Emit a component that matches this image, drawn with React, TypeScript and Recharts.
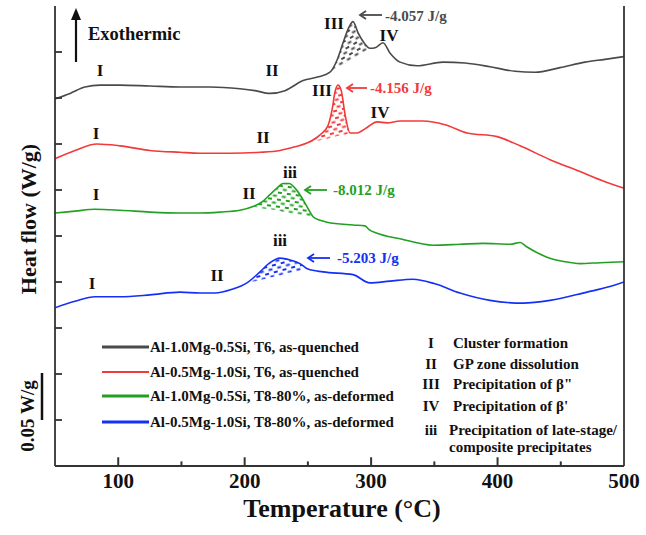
import React from 'react';
import { ComposedChart, Line, Area, XAxis, YAxis, ReferenceLine } from 'recharts';

// Temperature (°C) and heat-flow (W/g, offset)
const blackT = [50, 61.9, 73.7, 85.6, 101.4, 125.1, 148.9, 172.6, 196.3, 208.2, 220.0, 231.9, 246.2, 258.5, 267.5, 273.0, 277.8, 282.5, 285.7, 289.6, 294.4, 299.1, 303.8, 309.4, 314.9, 322.9, 336.3, 356.9, 374.3, 394.0, 413.8, 429.6, 449.4, 469.2, 485.0, 500];
const blackV = [0.399, 0.405, 0.412, 0.414, 0.414, 0.413, 0.412, 0.412, 0.410, 0.408, 0.405, 0.408, 0.419, 0.423, 0.428, 0.441, 0.460, 0.477, 0.483, 0.471, 0.460, 0.454, 0.455, 0.460, 0.449, 0.439, 0.435, 0.439, 0.438, 0.434, 0.429, 0.428, 0.433, 0.439, 0.442, 0.445];

const redT = [50, 65.8, 83.2, 101.4, 125.1, 148.9, 164.7, 188.4, 212.1, 228.0, 239.8, 249.3, 259.6, 265.9, 269.1, 271.5, 273.8, 276.2, 279.4, 283.3, 288.9, 296.8, 304.7, 312.6, 322.9, 341.1, 358.4, 375.9, 399.6, 417.8, 441.5, 465.2, 485.0, 500];
const redV = [0.334, 0.343, 0.350, 0.348, 0.343, 0.341, 0.340, 0.340, 0.341, 0.343, 0.347, 0.351, 0.360, 0.370, 0.387, 0.407, 0.414, 0.409, 0.382, 0.362, 0.362, 0.368, 0.374, 0.373, 0.375, 0.375, 0.371, 0.362, 0.358, 0.348, 0.333, 0.320, 0.309, 0.302];

const greenT = [50, 65.8, 81.6, 101.4, 125.1, 148.9, 164.7, 180.5, 196.3, 206.6, 213.7, 220.0, 225.6, 230.3, 235.1, 239.8, 244.6, 249.3, 254.1, 259.6, 265.1, 285.7, 295.2, 298.4, 304.7, 322.9, 348.9, 370.3, 388.5, 409.9, 417.8, 423.3, 439.1, 453.4, 465.2, 481.0, 500];
const greenV = [0.275, 0.277, 0.279, 0.278, 0.276, 0.275, 0.275, 0.276, 0.278, 0.282, 0.287, 0.295, 0.302, 0.307, 0.307, 0.302, 0.293, 0.282, 0.271, 0.267, 0.265, 0.262, 0.261, 0.257, 0.253, 0.247, 0.240, 0.241, 0.242, 0.241, 0.243, 0.238, 0.227, 0.222, 0.220, 0.221, 0.222];

const blueT = [50, 65.8, 81.6, 101.4, 125.1, 148.9, 164.7, 176.5, 190.0, 201.8, 212.1, 220.0, 227.9, 235.9, 243.8, 250.1, 262.0, 285.7, 299.1, 314.9, 333.1, 350.5, 370.3, 394.0, 420.1, 441.5, 470.8, 488.9, 500];
const blueV = [0.172, 0.179, 0.184, 0.184, 0.186, 0.189, 0.188, 0.188, 0.192, 0.199, 0.211, 0.221, 0.226, 0.224, 0.220, 0.214, 0.211, 0.208, 0.199, 0.201, 0.203, 0.198, 0.188, 0.180, 0.177, 0.180, 0.189, 0.195, 0.200];

// Integration baselines of the hatched peaks
const blackHatchT = [267.5, 273.0, 277.8, 282.5, 285.7, 289.6, 294.4, 299.1];
const blackHatchBase = [0.428, 0.433, 0.436, 0.440, 0.443, 0.446, 0.450, 0.454];
const redHatchT = [249.3, 259.6, 265.9, 269.1, 271.5, 273.8, 276.2, 279.4, 283.3];
const redHatchBase = [0.351, 0.354, 0.356, 0.357, 0.358, 0.359, 0.359, 0.360, 0.362];
const greenHatchT = [206.6, 213.7, 220.0, 225.6, 230.3, 235.1, 239.8, 244.6, 249.3, 254.1];
const greenHatchBase = [0.282, 0.280, 0.279, 0.278, 0.276, 0.275, 0.274, 0.273, 0.272, 0.271];
const blueHatchT = [201.8, 212.1, 220.0, 227.9, 235.9, 243.8, 250.1];
const blueHatchBase = [0.199, 0.202, 0.205, 0.207, 0.210, 0.212, 0.214];

const labelTicks = [100, 200, 300, 400, 500];
const majorTicks = [100, 200, 300, 400];
const minorTicks = [150, 250, 350, 450];
const yTicks = [0.05, 0.1, 0.15, 0.2, 0.25, 0.3, 0.35, 0.4, 0.45];
// inward tick lengths along the temperature axis, in W/g
const MAJOR_LEN = 0.0095;
const MINOR_LEN = 0.005;

const seriesNames = [
  'Al-1.0Mg-0.5Si, T6, as-quenched',
  'Al-0.5Mg-1.0Si, T6, as-quenched',
  'Al-1.0Mg-0.5Si, T8-80%, as-deformed',
  'Al-0.5Mg-1.0Si, T8-80%, as-deformed',
];
const stageCodes = ['I', 'II', 'III', 'IV', 'iii'];
const stageNames = ['Cluster formation', 'GP zone dissolution', 'Precipitation of \u03b2"', "Precipitation of \u03b2'", 'Precipitation of late-stage/'];
const enthalpies = ['-4.057 J/g', '-4.156 J/g', '-8.012 J/g', '-5.203 J/g'];

const COLORS = ['#4a4a4a', '#f23a3a', '#23a023', '#1530f5'];

const toRows = (t: number[], v: number[]) => t.map((x, i) => ({ t: x, v: v[i] }));
const toHatch = (t: number[], base: number[], ct: number[], cv: number[]) =>
  t.map((x, i) => ({ t: x, r: [base[i], cv[ct.indexOf(x)]] }));

const series = [
  { rows: toRows(blackT, blackV), hatch: toHatch(blackHatchT, blackHatchBase, blackT, blackV), rot: -30 },
  { rows: toRows(redT, redV), hatch: toHatch(redHatchT, redHatchBase, redT, redV), rot: -15 },
  { rows: toRows(greenT, greenV), hatch: toHatch(greenHatchT, greenHatchBase, greenT, greenV), rot: 8 },
  { rows: toRows(blueT, blueV), hatch: toHatch(blueHatchT, blueHatchBase, blueT, blueV), rot: -15 },
];

const FONT = '"Liberation Serif", "Times New Roman", serif';
const AX = '#333';

const NoLabel = () => <g />;

const Arrow = ({ x1, x2, y, color }: { x1: number; x2: number; y: number; color: string }) => (
  <g stroke={color} strokeWidth={1.8} fill="none">
    <line x1={x1} y1={y} x2={x2} y2={y} />
    <polyline points={`${x1 + 6},${y - 4} ${x1},${y} ${x1 + 6},${y + 4}`} />
  </g>
);

export default function App() {
  const txt = { fontFamily: FONT, fontWeight: 'bold' as const };
  return (
    <div style={{ position: 'absolute', left: 0, top: 0, width: 646, height: 535, background: '#fff' }}>
      <ComposedChart width={646} height={535} margin={{ top: 6, right: 22, bottom: 39, left: 55 }}>
        <defs>
          {COLORS.map((c, i) => (
            <pattern key={i} id={`hatch${i}`} width={9} height={7} patternUnits="userSpaceOnUse" patternTransform={`rotate(${series[i].rot})`}>
              <line x1={0.5} y1={1.5} x2={4.5} y2={1.5} stroke={c} strokeWidth={2} />
              <line x1={5} y1={5} x2={9} y2={5} stroke={c} strokeWidth={2} />
            </pattern>
          ))}
        </defs>
        <XAxis
          type="number"
          dataKey="t"
          domain={[50, 500]}
          allowDataOverflow
          ticks={labelTicks}
          interval={0}
          tickLine={false}
          tickSize={4}
          tickMargin={3}
          height={30}
          axisLine={{ stroke: AX, strokeWidth: 1.8 }}
          tick={{ fontFamily: FONT, fontWeight: 'bold', fontSize: 21, fill: '#111' }}
        />
        <XAxis xAxisId="top" orientation="top" type="number" dataKey="t" domain={[50, 500]} allowDataOverflow mirror height={0} tick={false} tickLine={false} axisLine={{ stroke: AX, strokeWidth: 1.8 }} />
        <YAxis type="number" domain={[0, 0.5]} allowDataOverflow mirror ticks={yTicks} interval={0} tick={NoLabel} tickSize={7} axisLine={{ stroke: AX, strokeWidth: 1.8 }} tickLine={{ stroke: AX, strokeWidth: 1.8 }} />
        <YAxis yAxisId="r" orientation="right" type="number" domain={[0, 0.5]} allowDataOverflow mirror tick={false} tickLine={false} axisLine={{ stroke: AX, strokeWidth: 1.8 }} />
        {majorTicks.map((t) => (
          <ReferenceLine key={`M${t}`} segment={[{ x: t, y: 0 }, { x: t, y: MAJOR_LEN }]} stroke={AX} strokeWidth={2} ifOverflow="visible" />
        ))}
        {minorTicks.map((t) => (
          <ReferenceLine key={`m${t}`} segment={[{ x: t, y: 0 }, { x: t, y: MINOR_LEN }]} stroke={AX} strokeWidth={2} ifOverflow="visible" />
        ))}
        {series.map((s, i) => (
          <Area
            key={`h${i}`}
            data={s.hatch}
            dataKey="r"
            type="linear"
            stroke="none"
            fill={`url(#hatch${i})`}
            fillOpacity={1}
            isAnimationActive={false}
            dot={false}
            activeDot={false}
          />
        ))}
        {series.map((s, i) => (
          <Line
            key={`l${i}`}
            data={s.rows}
            dataKey="v"
            type="monotone"
            stroke={COLORS[i]}
            strokeWidth={1.6}
            dot={false}
            activeDot={false}
            isAnimationActive={false}
          />
        ))}
      </ComposedChart>

      <svg width={646} height={535} style={{ position: 'absolute', left: 0, top: 0, pointerEvents: 'none' }}>
        {/* Exothermic arrow */}
        <line x1={76} y1={62} x2={76} y2={18} stroke="#111" strokeWidth={2.2} />
        <polygon points="71,20 76,8 81,20" fill="#111" />
        <text x={88} y={40} fontSize={18.5} fill="#111" {...txt}>Exothermic</text>

        {/* stage labels */}
        <g fontSize={17} fill="#111" textAnchor="middle" {...txt}>
          <text x={100} y={76}>I</text>
          <text x={272} y={76}>II</text>
          <text x={334} y={29}>III</text>
          <text x={389} y={41}>IV</text>

          <text x={96} y={139}>I</text>
          <text x={263} y={143}>II</text>
          <text x={322} y={96}>III</text>
          <text x={380} y={118}>IV</text>

          <text x={96} y={200}>I</text>
          <text x={249} y={199}>II</text>
          <text x={290} y={178}>iii</text>

          <text x={92} y={289}>I</text>
          <text x={217} y={281}>II</text>
          <text x={280} y={246}>iii</text>
        </g>

        {/* enthalpy arrows */}
        <Arrow x1={360} x2={382} y={15} color={COLORS[0]} />
        <text x={385} y={21} fontSize={15} fill={COLORS[0]} {...txt}>{enthalpies[0]}</text>
        <Arrow x1={347} x2={367} y={88} color={COLORS[1]} />
        <text x={370} y={93} fontSize={15} fill={COLORS[1]} {...txt}>{enthalpies[1]}</text>
        <Arrow x1={305} x2={327} y={190} color={COLORS[2]} />
        <text x={333} y={195} fontSize={15} fill={COLORS[2]} {...txt}>{enthalpies[2]}</text>
        <Arrow x1={308} x2={330} y={258} color={COLORS[3]} />
        <text x={337} y={263} fontSize={15} fill={COLORS[3]} {...txt}>{enthalpies[3]}</text>

        {/* series legend */}
        {seriesNames.map((n, i) => {
          const y = [347, 372, 396, 422][i];
          return (
            <g key={n}>
              <line x1={102} x2={149} y1={y} y2={y} stroke={COLORS[i]} strokeWidth={i === 1 ? 2.2 : 2.8} />
              <text x={150} y={y + 5} fontSize={15} fill="#111" {...txt}>{n}</text>
            </g>
          );
        })}

        {/* stage legend */}
        <g fontSize={15} fill="#111" {...txt}>
          {stageCodes.map((c, i) => {
            const y = [348, 369, 389, 411, 435][i];
            return (
              <g key={c}>
                <text x={431} y={y} textAnchor="middle">{c}</text>
                <text x={i === 4 ? 449 : 453} y={y}>{stageNames[i]}</text>
              </g>
            );
          })}
          <text x={449} y={452}>composite precipitates</text>
        </g>

        {/* axis titles */}
        <text x={28} y={219} transform="rotate(-90 28 219)" textAnchor="middle" dominantBaseline="central" fontSize={22} fill="#111" {...txt}>
          Heat flow (W/g)
        </text>
        <text x={27} y={416} transform="rotate(-90 27 416)" textAnchor="middle" dominantBaseline="central" fontSize={19} fill="#111" {...txt}>
          0.05 W/g
        </text>
        <line x1={42} x2={42} y1={373} y2={420} stroke="#111" strokeWidth={2.5} />
        <text x={342} y={517} textAnchor="middle" fontSize={26} fill="#111" {...txt}>
          Temperature (°C)
        </text>
      </svg>
    </div>
  );
}
